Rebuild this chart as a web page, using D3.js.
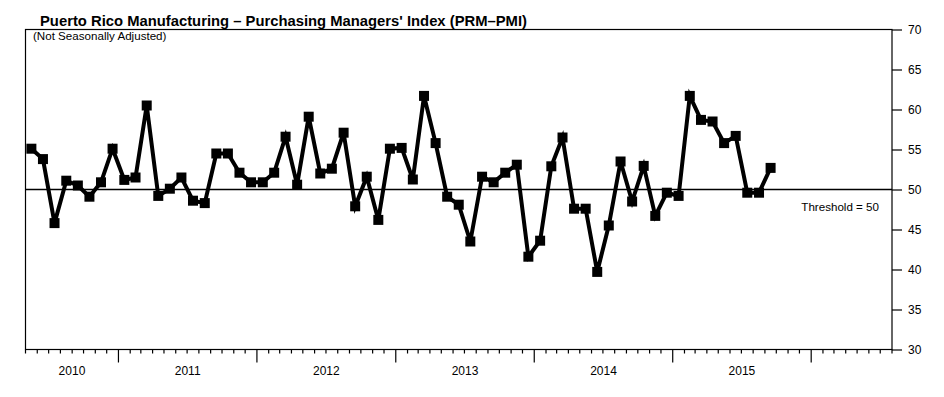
<!DOCTYPE html>
<html>
<head>
<meta charset="utf-8">
<script src="https://cdn.jsdelivr.net/npm/d3@7"></script>
<style>
  body { margin: 0; background: #fff; }
  text { font-family: "Liberation Sans", Arial, Helvetica, sans-serif; fill: #000; }
</style>
</head>
<body>
<div class="chart"></div>
<script>
const svgWidth = 944
const svgHeight = 397

// PMI monthly readings, May 2010 - Sep 2015
const firstMonth = "2010-05"
const pmiValues = [
  55.1, 53.8, 45.8, 51.1, 50.5, 49.1, 50.9, 55.1, 51.2, 51.5, 60.5, 49.2,
  50.1, 51.5, 48.6, 48.3, 54.5, 54.5, 52.1, 50.9, 50.9, 52.1, 56.6, 50.6,
  59.1, 52.0, 52.6, 57.1, 47.9, 51.6, 46.2, 55.1, 55.2, 51.25, 61.7, 55.8,
  49.1, 48.1, 43.5, 51.6, 50.9, 52.1, 53.1, 41.6, 43.6, 52.9, 56.5, 47.6,
  47.6, 39.7, 45.5, 53.5, 48.5, 52.95, 46.7, 49.6, 49.2, 61.7, 58.7, 58.5,
  55.8, 56.7, 49.6, 49.6, 52.7
]
const yTickValues = [30, 35, 40, 45, 50, 55, 60, 65, 70]
const yearLabels = [2010, 2011, 2012, 2013, 2014, 2015]
const threshold = 50

let margin = { top: 29.5, right: 52, bottom: 47.5, left: 25.5 }
let width = svgWidth - margin.left - margin.right
let height = svgHeight - margin.top - margin.bottom

let svg = d3.select(".chart")
  .append("svg")
  .attr("width", svgWidth)
  .attr("height", svgHeight)

let chartGroup = svg.append("g")
  .attr("transform", `translate(${margin.left}, ${margin.top})`)

const parseMonth = d3.timeParse("%Y-%m")
let start = parseMonth(firstMonth)
let end = new Date(2016, 7, 1)

let data = pmiValues.map((v, i) => ({
  month: d3.timeMonth.offset(start, i),
  value: v
}))

let xScale = d3.scaleTime().domain([start, end]).range([0, width])
let yScale = d3.scaleLinear().domain([30, 70]).range([height, 0])

// point sits in the middle of its month
let xMid = d => (xScale(d) + xScale(d3.timeMonth.offset(d, 1))) / 2

// frame
chartGroup.append("rect")
  .attr("width", width)
  .attr("height", height)
  .attr("fill", "none")
  .attr("stroke", "#000")
  .attr("stroke-width", 1.2)

// bottom axis: month minor ticks, year major ticks
let monthTicks = d3.timeMonth.range(start, d3.timeMonth.offset(end, 1))
chartGroup.append("g")
  .selectAll("line")
  .data(monthTicks)
  .enter()
  .append("line")
  .attr("x1", d => xScale(d))
  .attr("x2", d => xScale(d))
  .attr("y1", height)
  .attr("y2", d => d.getMonth() === 0 ? height + 13 : height + 4)
  .attr("stroke", "#000")
  .attr("stroke-width", 1.2)

chartGroup.append("g")
  .selectAll("text")
  .data(yearLabels)
  .enter()
  .append("text")
  .attr("x", d => {
    let a = Math.max(xScale(new Date(d, 0, 1)), 0)
    let b = xScale(new Date(d + 1, 0, 1))
    return (a + b) / 2
  })
  .attr("y", height + 25)
  .attr("text-anchor", "middle")
  .attr("font-size", "12px")
  .text(d => d)

// right axis
let rightAxis = d3.axisRight(yScale)
  .tickValues(yTickValues)
  .tickSize(10)
  .tickPadding(6)
chartGroup.append("g")
  .attr("transform", `translate(${width}, 0)`)
  .call(rightAxis)
  .call(g => g.select(".domain").remove())
  .call(g => g.selectAll("line").attr("stroke-width", 1.2))
  .call(g => g.selectAll("text")
    .attr("font-size", "12px")
    .attr("font-family", "'Liberation Sans', Arial, sans-serif"))

// threshold line
chartGroup.append("line")
  .attr("x1", 0)
  .attr("x2", width)
  .attr("y1", yScale(threshold))
  .attr("y2", yScale(threshold))
  .attr("stroke", "#000")
  .attr("stroke-width", 1.3)

chartGroup.append("text")
  .attr("x", width - 13)
  .attr("y", yScale(threshold) + 21)
  .attr("text-anchor", "end")
  .attr("font-size", "11.6px")
  .text("Threshold = 50")

// series
let line = d3.line()
  .x(d => xMid(d.month))
  .y(d => yScale(d.value))

chartGroup.append("path")
  .datum(data)
  .attr("d", line)
  .attr("fill", "none")
  .attr("stroke", "#000")
  .attr("stroke-width", 4)
  .attr("stroke-linejoin", "miter")

const sq = 10
chartGroup.append("g")
  .selectAll("rect")
  .data(data)
  .enter()
  .append("rect")
  .attr("x", d => xMid(d.month) - sq / 2)
  .attr("y", d => yScale(d.value) - sq / 2)
  .attr("width", sq)
  .attr("height", sq)
  .attr("fill", "#000")

// titles
svg.append("text")
  .attr("x", 40)
  .attr("y", 26)
  .attr("font-size", "15px")
  .attr("font-weight", "bold")
  .attr("textLength", 487)
  .attr("lengthAdjust", "spacingAndGlyphs")
  .text("Puerto Rico Manufacturing – Purchasing Managers' Index (PRM–PMI)")

svg.append("text")
  .attr("x", 33)
  .attr("y", 40)
  .attr("font-size", "11.6px")
  .text("(Not Seasonally Adjusted)")
</script>
</body>
</html>
